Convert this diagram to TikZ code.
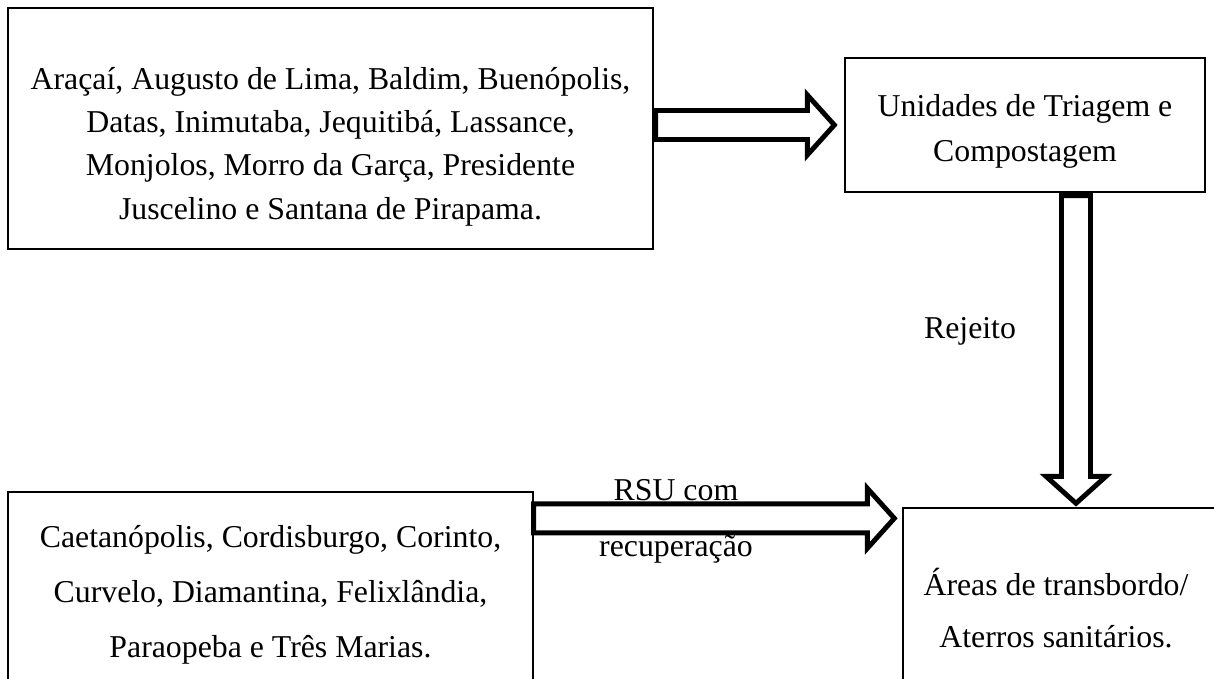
\documentclass[tikz,border=0pt]{standalone}
\usepackage{fontspec}
\setmainfont{Liberation Serif}
\usetikzlibrary{calc}
\newcommand{\fatarrow}[2]{%
\coordinate (fatbase) at ($(#2)!0.54cm!(#1)$);
\draw[hollow] ($(#1)!0.29cm!90:(#2)$) -- ($(fatbase)!0.29cm!-90:(#1)$)
	-- ($(fatbase)!0.6cm!-90:(#1)$) -- (#2) -- ($(fatbase)!0.6cm!90:(#1)$)
	-- ($(fatbase)!0.29cm!90:(#1)$) -- ($(#1)!0.29cm!-90:(#2)$) -- cycle;}
\begin{document}
\begin{tikzpicture}[x=0.02cm,y=-0.02cm]
\tikzstyle{box}= [rectangle,draw,line width=0.8pt,inner sep=0pt]
\tikzstyle{txt}= [align=center,inner sep=0pt,anchor=north]
\tikzstyle{hollow}= [line width=2.8pt,fill=white,line join=miter]
\useasboundingbox (0,0) rectangle (1214,679);
\clip (0,0) rectangle (1214,679);
\path
	( 330.5,128.5) node[box,minimum width=12.9cm,minimum height=4.82cm] (araB) {}
	(1025,125)     node[box,minimum width=7.2cm,minimum height=2.68cm] (triB) {}
	( 270.5,626)   node[box,minimum width=10.5cm,minimum height=5.36cm] (cetB) {}
	(1081.5,634)   node[box,minimum width=7.14cm,minimum height=5.04cm] (aterB) {}
;
\path
	( 330.5,67) node[txt,font=\fontsize{18.1}{24.6}\selectfont] (araT)
		{Araçaí, Augusto de Lima, Baldim, Buenópolis,\\Datas, Inimutaba, Jequitibá, Lassance,\\Monjolos, Morro da Garça, Presidente\\Juscelino e Santana de Pirapama.}
	(1025,94)   node[txt,font=\fontsize{18.1}{25.6}\selectfont] (triT)
		{Unidades de Triagem e\\Compostagem}
	( 270.5,525) node[txt,font=\fontsize{18.1}{31.3}\selectfont] (cetT)
		{Caetanópolis, Cordisburgo, Corinto,\\Curvelo, Diamantina, Felixlândia,\\Paraopeba e Três Marias.}
	(1056,568)  node[txt,font=\fontsize{18.1}{29.5}\selectfont] (aterT)
		{Áreas de transbordo/\\Aterros sanitários.}
;
\coordinate (artS) at ($(araB.east |- triB.west)+(2,0)$);
\coordinate (artT) at ($(triB.west)+(-10,0)$);
\coordinate (rejS) at ($(triB.south)+(51,3)$);
\coordinate (rejT) at ($(rejS |- aterB.north)+(0,-4)$);
\coordinate (rsuS) at ($(cetB.east |- aterB.north)+(0,11)$);
\coordinate (rsuT) at ($(aterB.west |- rsuS)+(-8,0)$);
\fatarrow{artS}{artT}
\fatarrow{rejS}{rejT}
\fatarrow{rsuS}{rsuT}
\path
	(970,338)   node[font=\fontsize{18.1}{22}\selectfont,inner sep=0pt,anchor=base] (rejL) {Rejeito}
	(676,479.5) node[txt,font=\fontsize{18.1}{31.9}\selectfont] (rsuL) {RSU com\\recuperação}
;
\end{tikzpicture}
\end{document}
